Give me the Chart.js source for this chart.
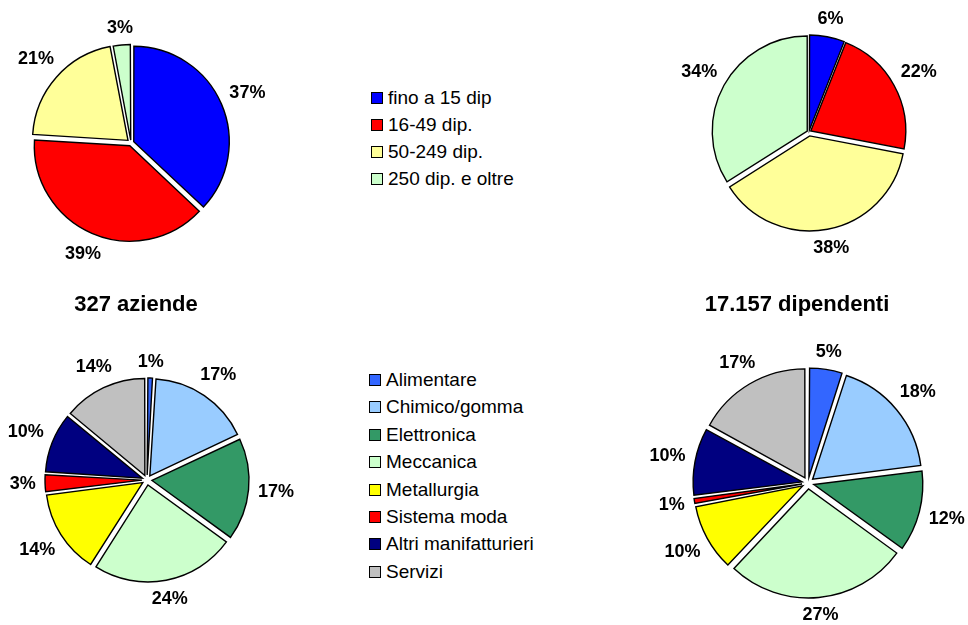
<!DOCTYPE html>
<html>
<head>
<meta charset="utf-8">
<script src="https://cdn.jsdelivr.net/npm/chart.js@4.4.1/dist/chart.umd.min.js"></script>
<style>
    html, body { margin: 0; padding: 0; background: #fff; }
    body {
        width: 968px; height: 625px; position: relative; overflow: hidden;
        font-family: "Liberation Sans", Arial, sans-serif; color: #000;
    }
    canvas.pie { position: absolute; }
    .title {
        position: absolute; font-weight: bold; font-size: 22px;
        transform: translate(-50%, -50%); white-space: nowrap;
    }
    .legend { position: absolute; font-size: 19px; }
    .legend .row {
        position: absolute; left: 0; height: 22px; line-height: 22px;
        display: flex; align-items: center; white-space: nowrap;
    }
    .legend .box {
        width: 12px; height: 12px; box-sizing: border-box;
        border: 1px solid #000; margin-right: 5px;
    }
</style>
</head>
<body>
<script>
// Dimensione aziende
const sizeLabels = ['fino a 15 dip', '16-49 dip.', '50-249 dip.', '250 dip. e oltre'];
const sizeColors = ['#0000FF', '#FF0000', '#FFFF99', '#CCFFCC'];
const aziendeBySize = [37, 39, 21, 3];
const dipendentiBySize = [6, 22, 38, 34];

// Settori
const sectorLabels = ['Alimentare', 'Chimico/gomma', 'Elettronica', 'Meccanica',
    'Metallurgia', 'Sistema moda', 'Altri manifatturieri', 'Servizi'];
const sectorColors = ['#3366FF', '#99CCFF', '#339966', '#CCFFCC',
    '#FFFF00', '#FF0000', '#000080', '#C0C0C0'];
const aziendeBySector = [1, 17, 17, 24, 14, 3, 10, 14];
const dipendentiBySector = [5, 18, 12, 27, 10, 1, 10, 17];

const titles = ['327 aziende', '17.157 dipendenti'];

const FONT = '"Liberation Sans", Arial, sans-serif';
const CANVAS = 320;

// percent labels outside each slice
const pctLabels = {
    id: 'pctLabels',
    beforeDatasetsDraw(chart, args, opts) {
        // chart.js grows thin exploded slices a bit, pull them back to the nominal radius
        chart.getDatasetMeta(0).data.forEach(arc => {
            const shift = (arc.options.offset || 0) / 4;
            const circ = arc.circumference || 0;
            const fix = 1 - Math.sin(Math.min(Math.PI, circ));
            arc.outerRadius = opts.radius - shift * fix;
        });
    },
    afterDatasetsDraw(chart, args, opts) {
        const ctx = chart.ctx;
        const ds = chart.data.datasets[0];
        ctx.save();
        ctx.font = 'bold 18px ' + FONT;
        ctx.fillStyle = '#000';
        ctx.textAlign = 'center';
        ctx.textBaseline = 'middle';
        chart.getDatasetMeta(0).data.forEach((arc, i) => {
            const p = arc.getProps(['x', 'y', 'startAngle', 'endAngle']);
            const mid = (p.startAngle + p.endAngle) / 2;
            const shift = (arc.options.offset || 0) / 4;
            const text = ds.data[i] + '%';
            const w = ctx.measureText(text).width;
            const cos = Math.cos(mid), sin = Math.sin(mid);
            const dist = opts.radius + shift + opts.gap + Math.abs(cos) * w / 2 + Math.abs(sin) * 14 / 2;
            ctx.fillText(text, p.x + cos * dist, p.y + sin * dist);
        });
        ctx.restore();
    }
};

function makePie(cx, cy, radius, labels, colors, values, shifts, gap) {
    const canvas = document.createElement('canvas');
    canvas.className = 'pie';
    canvas.width = CANVAS;
    canvas.height = CANVAS;
    canvas.style.left = (cx - CANVAS / 2) + 'px';
    canvas.style.top = (cy - CANVAS / 2) + 'px';
    document.body.appendChild(canvas);

    return new Chart(canvas, {
        type: 'pie',
        data: {
            labels: labels,
            datasets: [{
                data: values,
                backgroundColor: colors,
                borderColor: '#000',
                borderWidth: 1.4,
                borderJoinStyle: 'miter',
                offset: shifts.map(s => s * 4)
            }]
        },
        options: {
            responsive: false,
            animation: false,
            devicePixelRatio: 1,
            radius: radius,
            layout: { padding: 0 },
            events: [],
            plugins: {
                legend: { display: false },
                tooltip: { enabled: false },
                pctLabels: { radius: radius, gap: gap }
            }
        },
        plugins: [pctLabels]
    });
}

function makeLegend(left, firstY, step, labels, colors) {
    const box = document.createElement('div');
    box.className = 'legend';
    box.style.left = left + 'px';
    box.style.top = '0px';
    labels.forEach((label, i) => {
        const row = document.createElement('div');
        row.className = 'row';
        row.style.top = (firstY + i * step - 11) + 'px';
        row.innerHTML = `<span class="box" style="background:${colors[i]}"></span><span>${label}</span>`;
        box.appendChild(row);
    });
    document.body.appendChild(box);
}

function makeTitle(x, y, text) {
    const el = document.createElement('div');
    el.className = 'title';
    el.style.left = x + 'px';
    el.style.top = y + 'px';
    el.textContent = text;
    document.body.appendChild(el);
}

makePie(130.5, 143, 95.5, sizeLabels, sizeColors, aziendeBySize, [3, 3, 4, 3], 9);
makePie(809, 132, 95, sizeLabels, sizeColors, dipendentiBySize, [2, 2, 4, 2], 9);
makePie(146.5, 480, 97, sectorLabels, sectorColors, aziendeBySector, [5, 5, 5, 5, 5, 5, 5, 5], 9);
makePie(808, 482.5, 109, sectorLabels, sectorColors, dipendentiBySector, [6, 6, 6, 6, 6, 6, 6, 6], 9);

makeLegend(371, 97.5, 27.3, sizeLabels, sizeColors);
makeLegend(369, 380, 27.4, sectorLabels, sectorColors);

makeTitle(136, 304, titles[0]);
makeTitle(797, 304, titles[1]);
</script>
</body>
</html>
